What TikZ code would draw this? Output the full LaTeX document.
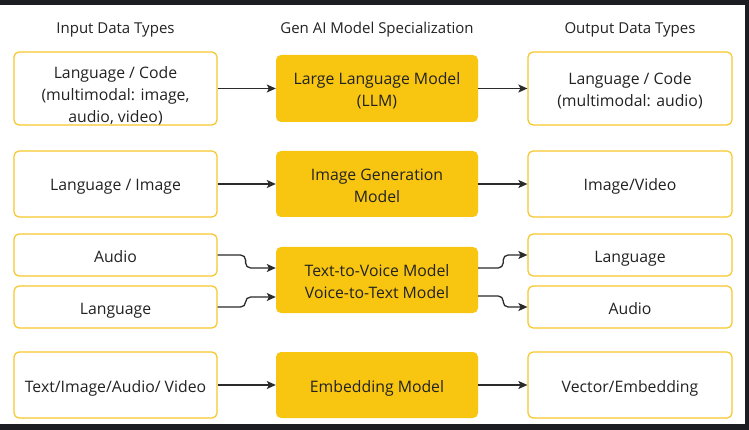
\documentclass[tikz,border=0pt]{standalone}
\usepackage{fontspec}
\setmainfont{Open Sans}
\usetikzlibrary{arrows.meta,calc}
\definecolor{gold}{HTML}{F8C611}
\definecolor{boxline}{HTML}{F7C72A}
\definecolor{ink}{HTML}{222222}
\definecolor{wire}{HTML}{2B2B2B}
\definecolor{frame}{HTML}{1B1D22}
\begin{document}
\begin{tikzpicture}[x=1pt,y=-1pt,
  txt/.style={text=ink, font=\fontsize{15.8}{22}\selectfont, align=center, inner sep=0pt},
  oneline/.style={txt, text height=12pt, text depth=4pt, yshift=-3pt},
  heading/.style={txt, font=\fontsize{15}{20}\selectfont, text height=11.5pt, text depth=4pt, yshift=-3.5pt},
  databox/.style={draw=boxline, line width=1.2pt, fill=white, rounded corners=5pt,
    minimum width=203pt, minimum height=66pt},
  modelbox/.style={fill=gold, rounded corners=5pt, minimum width=202pt, minimum height=66pt},
  conn/.style={draw=wire, line width=1.3pt, rounded corners=5pt,
    -{Stealth[length=9pt,width=8pt,inset=2pt]}}]
% canvas and dark frame
\fill[white] (0,0) rectangle (749,430);
\useasboundingbox (0,0) rectangle (749,430);
\fill[frame] (0,0) rectangle (749,5);
\fill[frame] (745,0) rectangle (749,430);
\fill[frame] (0,424) rectangle (749,430);

% column headings
\node[heading] (h1) at (115.5,26) {Input Data Types};
\node[heading] (h2) at (377,26) {Gen AI Model Specialization};
\node[heading] (h3) at (630,26) {Output Data Types};

% boxes
\node[databox, minimum height=73pt] (in1) at (115.5,88.5) {};
\node[modelbox, minimum height=67pt] (m1) at (377,88.5) {};
\node[databox, minimum height=73pt, minimum width=204pt] (out1) at (630,88.5) {};

\node[databox] (in2) at (115.5,184) {};
\node[modelbox] (m2) at (377,184) {};
\node[databox, minimum width=204pt] (out2) at (630,184) {};

\node[databox, minimum height=42pt] (in3a) at (115.5,255) {};
\node[databox, minimum height=42pt] (in3b) at (115.5,307) {};
\node[modelbox] (m3) at (377,280) {};
\node[databox, minimum height=42pt, minimum width=204pt] (out3a) at (630,255) {};
\node[databox, minimum height=42pt, minimum width=204pt] (out3b) at (630,307) {};

\node[databox] (in4) at (115.5,385) {};
\node[modelbox] (m4) at (377,385) {};
\node[databox, minimum width=204pt] (out4) at (630,385) {};

% box texts
\node[txt, yshift=-7pt] (tin1) at (in1) {Language / Code\\(multimodal: image,\\audio, video)};
\node[txt, yshift=-2pt] (tm1) at (m1) {Large Language Model\\(LLM)};
\node[txt, yshift=-2pt] (tout1) at (out1) {Language / Code\\(multimodal: audio)};

\node[oneline] (tin2) at (in2) {Language / Image};
\node[txt, yshift=-2pt] (tm2) at (m2) {Image Generation\\Model};
\node[oneline] (tout2) at (out2) {Image/Video};

\node[oneline] (tin3a) at (in3a) {Audio};
\node[oneline] (tin3b) at (in3b) {Language};
\node[txt, yshift=-2pt] (tm3) at (m3) {Text-to-Voice Model\\Voice-to-Text Model};
\node[oneline] (tout3a) at (out3a) {Language};
\node[oneline] (tout3b) at (out3b) {Audio};

\node[oneline] (tin4) at (in4) {Text/Image/Audio/ Video};
\node[oneline] (tm4) at (m4) {Embedding Model};
\node[oneline] (tout4) at (out4) {Vector/Embedding};

% connectors
\draw[conn] (in1) -- (m1);
\draw[conn] (m1) -- (out1);
\draw[conn] (in2) -- (m2);
\draw[conn] (m2) -- (out2);
\draw[conn] (in4) -- (m4);
\draw[conn] (m4) -- (out4);

\coordinate (m3inA) at ($(m3.west)+(0,-12)$);
\coordinate (m3inB) at ($(m3.west)+(0,17)$);
\coordinate (m3outA) at ($(m3.east)+(0,-12)$);
\coordinate (m3outB) at ($(m3.east)+(0,16)$);
\draw[conn] (in3a.east) -- ++(28,0) |- (m3inA);
\draw[conn] (in3b.east) -- ++(28,0) |- (m3inB);
\draw[conn] (m3outA) -- ++(25,0) |- (out3a.west);
\draw[conn] (m3outB) -- ++(25,0) |- (out3b.west);
\end{tikzpicture}
\end{document}
